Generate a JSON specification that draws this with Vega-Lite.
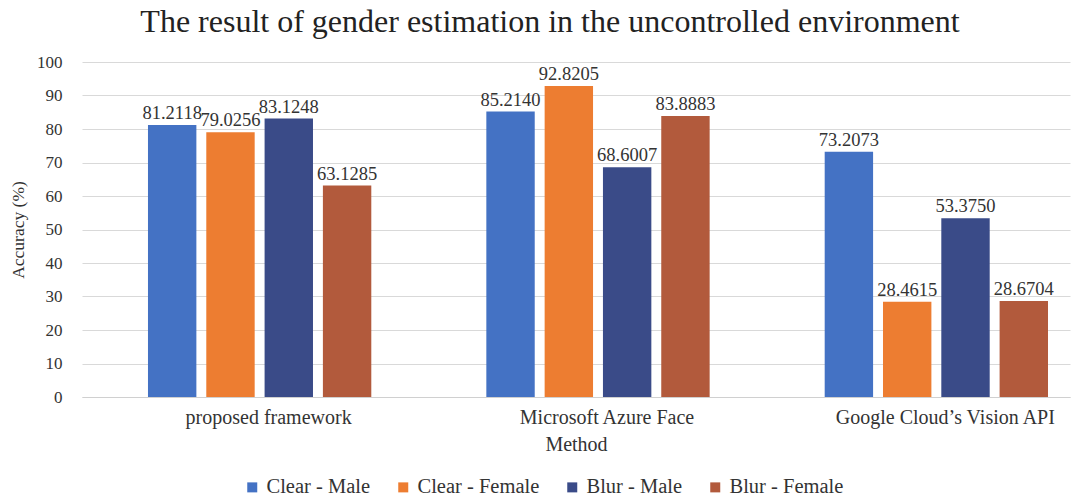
{
  "$schema": "https://vega.github.io/schema/vega-lite/v6.json",
  "width": 988,
  "height": 335,
  "autosize": "none",
  "padding": {"left": 82, "right": 14, "top": 62, "bottom": 103},
  "background": "white",
  "title": {
    "text": "The result of  gender estimation in the uncontrolled environment",
    "font": "Liberation Serif",
    "fontSize": 32,
    "fontWeight": "normal",
    "color": "#222222",
    "offset": 14,
    "dx": -26
  },
  "data": {
    "values": [
      {"method": "proposed framework", "series": "Clear - Male", "value": 81.2118, "label": "81.2118"},
      {"method": "proposed framework", "series": "Clear - Female", "value": 79.0256, "label": "79.0256"},
      {"method": "proposed framework", "series": "Blur - Male", "value": 83.1248, "label": "83.1248"},
      {"method": "proposed framework", "series": "Blur - Female", "value": 63.1285, "label": "63.1285"},
      {"method": "Microsoft Azure Face", "series": "Clear - Male", "value": 85.2140, "label": "85.2140"},
      {"method": "Microsoft Azure Face", "series": "Clear - Female", "value": 92.8205, "label": "92.8205"},
      {"method": "Microsoft Azure Face", "series": "Blur - Male", "value": 68.6007, "label": "68.6007"},
      {"method": "Microsoft Azure Face", "series": "Blur - Female", "value": 83.8883, "label": "83.8883"},
      {"method": "Google Cloud’s Vision API", "series": "Clear - Male", "value": 73.2073, "label": "73.2073"},
      {"method": "Google Cloud’s Vision API", "series": "Clear - Female", "value": 28.4615, "label": "28.4615"},
      {"method": "Google Cloud’s Vision API", "series": "Blur - Male", "value": 53.3750, "label": "53.3750"},
      {"method": "Google Cloud’s Vision API", "series": "Blur - Female", "value": 28.6704, "label": "28.6704"}
    ]
  },
  "encoding": {
    "x": {
      "field": "method",
      "type": "nominal",
      "sort": ["proposed framework", "Microsoft Azure Face", "Google Cloud’s Vision API"],
      "scale": {"paddingInner": 0.34, "paddingOuter": 0.13, "align": 0.75},
      "axis": {
        "title": "Method",
        "titleFont": "Liberation Serif",
        "titleFontSize": 20,
        "titleFontWeight": "normal",
        "titleColor": "#333333",
        "titlePadding": 7,
        "labelFont": "Liberation Serif",
        "labelFontSize": 20,
        "labelColor": "#333333",
        "labelAngle": 0,
        "labelPadding": 10,
        "labelOffset": 9,
        "labelLimit": 0,
        "ticks": false,
        "domainColor": "#d0d0d0",
        "grid": false
      }
    },
    "xOffset": {
      "field": "series",
      "type": "nominal",
      "sort": ["Clear - Male", "Clear - Female", "Blur - Male", "Blur - Female"],
      "scale": {"paddingInner": 0.17}
    },
    "y": {
      "field": "value",
      "type": "quantitative",
      "scale": {"domain": [0, 100], "nice": false},
      "axis": {
        "title": "Accuracy (%)",
        "titleFont": "Liberation Serif",
        "titleFontSize": 17.5,
        "titleFontWeight": "normal",
        "titleColor": "#333333",
        "titlePadding": 9,
        "labelFont": "Liberation Serif",
        "labelFontSize": 17,
        "labelColor": "#333333",
        "labelPadding": 20,
        "values": [0, 10, 20, 30, 40, 50, 60, 70, 80, 90, 100],
        "labelOverlap": false,
        "ticks": false,
        "domain": false,
        "gridColor": "#d9d9d9"
      }
    }
  },
  "layer": [
    {
      "mark": {"type": "bar"},
      "encoding": {
        "color": {
          "field": "series",
          "type": "nominal",
          "sort": ["Clear - Male", "Clear - Female", "Blur - Male", "Blur - Female"],
          "scale": {
            "domain": ["Clear - Male", "Clear - Female", "Blur - Male", "Blur - Female"],
            "range": ["#4472C4", "#ED7D31", "#3A4B88", "#B25A3C"]
          },
          "legend": {
            "title": null,
            "orient": "none",
            "legendX": 160,
            "legendY": 415,
            "direction": "horizontal",
            "symbolType": "square",
            "symbolSize": 100,
            "symbolStrokeWidth": 0,
            "labelFont": "Liberation Serif",
            "labelFontSize": 20.5,
            "labelColor": "#333333",
            "columnPadding": 22,
            "labelOffset": 4
          }
        }
      }
    },
    {
      "mark": {
        "type": "text",
        "baseline": "bottom",
        "dy": -2,
        "font": "Liberation Serif",
        "fontSize": 18.5,
        "color": "#333333"
      },
      "encoding": {
        "text": {"field": "label", "type": "nominal"}
      }
    }
  ],
  "config": {
    "font": "Liberation Serif",
    "view": {"stroke": null},
    "style": {
      "guide-label": {"font": "Liberation Serif"},
      "guide-title": {"font": "Liberation Serif"}
    },
    "axis": {"labelFont": "Liberation Serif", "titleFont": "Liberation Serif"},
    "legend": {"labelFont": "Liberation Serif"},
    "text": {"font": "Liberation Serif"}
  }
}
